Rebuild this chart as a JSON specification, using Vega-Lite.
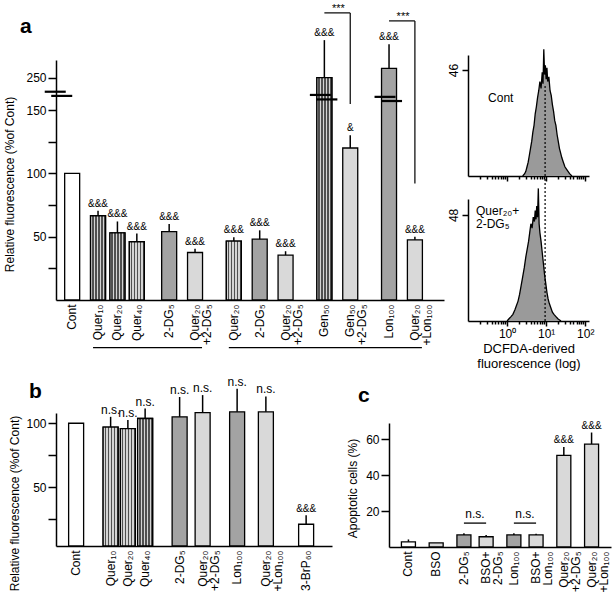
{
  "$schema": "https://vega.github.io/schema/vega-lite/v6.json",
  "padding": {"left": 3, "top": 2, "right": 0, "bottom": 0},
  "background": "white",
  "bounds": "flush",
  "columns": 2,
  "spacing": {"row": 92, "column": 24},
  "config": {
    "font": "Liberation Sans",
    "view": {"stroke": null},
    "axis": {"domainColor": "black", "domainWidth": 1.5, "tickColor": "black", "tickWidth": 1.5, "tickSize": 8, "labelPadding": 2, "labelColor": "black", "labelFontSize": 12, "titleColor": "black", "titleFontSize": 12, "titleFontWeight": "normal", "grid": false},
    "title": {"fontSize": 21, "fontWeight": "bold", "anchor": "start", "frame": "group", "color": "black"},
    "text": {"color": "black"}
  },
  "concat": [
    {
      "width": 388,
      "height": 245,
      "title": {"text": "a", "dx": -36, "offset": -51, "baseline": "alphabetic"},
      "layer": [
        {
          "data": {"values": [
            {"id": "a:Cont", "v": 100, "err": 100, "agent": "control", "sig": ""},
            {"id": "3h:Quer₁₀", "v": 66.5, "err": 70.5, "agent": "flavonoid", "sig": "&&&"},
            {"id": "3h:Quer₂₀", "v": 53, "err": 62, "agent": "flavonoid", "sig": "&&&"},
            {"id": "3h:Quer₄₀", "v": 46, "err": 52.5, "agent": "flavonoid", "sig": "&&&"},
            {"id": "3h:2-DG₅", "v": 54, "err": 60, "agent": "inhibitor", "sig": "&&&"},
            {"id": "3h:Quer₂₀|+2-DG₅", "v": 37.5, "err": 40.5, "agent": "combination", "sig": "&&&"},
            {"id": "6h:Quer₂₀", "v": 46.5, "err": 49.5, "agent": "flavonoid", "sig": "&&&"},
            {"id": "6h:2-DG₅", "v": 48, "err": 55, "agent": "inhibitor", "sig": "&&&"},
            {"id": "6h:Quer₂₀|+2-DG₅", "v": 35.5, "err": 38.5, "agent": "combination", "sig": "&&&"},
            {"id": "6h:Gen₅₀", "v": 251, "err": 368, "agent": "flavonoid", "sig": "&&&"},
            {"id": "6h:Gen₅₀|+2-DG₅", "v": 120, "err": 130, "agent": "combination", "sig": "&"},
            {"id": "6h:Lon₁₀₀", "v": 280, "err": 355, "agent": "inhibitor", "sig": "&&&"},
            {"id": "6h:Quer₂₀|+Lon₁₀₀", "v": 47.5, "err": 50, "agent": "combination", "sig": "&&&"}
          ]},
          "layer": [
            {
              "mark": {"type": "bar", "width": 15, "stroke": "black", "strokeWidth": 1.3},
              "encoding": {
                "x": {
                  "field": "id", "type": "nominal",
                  "scale": {"domain": ["_0","_1","a:Cont","_3","_4","_5","3h:Quer₁₀","_7","_8","3h:Quer₂₀","_10","_11","3h:Quer₄₀","_13","_14","_15","_16","3h:2-DG₅","_18","_19","_20","3h:Quer₂₀|+2-DG₅","_22","_23","_24","_25","_26","6h:Quer₂₀","_28","_29","_30","6h:2-DG₅","_32","_33","_34","6h:Quer₂₀|+2-DG₅","_36","_37","_38","_39","_40","6h:Gen₅₀","_42","_43","_44","6h:Gen₅₀|+2-DG₅","_46","_47","_48","_49","_50","6h:Lon₁₀₀","_52","_53","_54","6h:Quer₂₀|+Lon₁₀₀","_56","_57","_58","_59"], "paddingInner": 0, "paddingOuter": 0},
                  "axis": {"title": null, "ticks": false, "labelAngle": -90, "labelPadding": 4, "labelLineHeight": 12, "labelExpr": "test(regexp(':'), datum.value) ? split(replace(datum.value, regexp('^[^:]*:'), ''), '|') : ''"}
                },
                "y": {
                  "field": "v", "type": "quantitative",
                  "scale": {"domain": [0, 150, 306], "range": [245, 55, 5], "nice": false, "zero": false},
                  "axis": {"values": [25, 50, 75, 100, 125, 150, 250], "labelExpr": "datum.value % 50 == 0 ? datum.label : ''", "title": "Relative fluorescence (%of Cont)", "titlePadding": 9, "titleY": 129}
                },
                "fill": {
                  "field": "agent", "type": "nominal",
                  "scale": {"domain": ["control", "flavonoid", "inhibitor", "combination", "BSO", "reference"], "range": ["white", "#8a8a8a", "#a3a3a3", "#d9d9d9", "#d9d9d9", "white"]},
                  "legend": null
                }
              }
            },
            {
              "transform": [{"filter": "datum.agent == 'flavonoid'"}],
              "mark": {"type": "bar", "width": 15, "stroke": "black", "strokeWidth": 1.3,
                "fill": {"gradient": "linear", "x1": 0, "y1": 0, "x2": 1, "y2": 0, "stops": [
                  {"offset": 0, "color": "#d4d4d4"}, {"offset": 0.1, "color": "#d4d4d4"}, {"offset": 0.1, "color": "#505050"}, {"offset": 0.2, "color": "#505050"},
                  {"offset": 0.2, "color": "#d4d4d4"}, {"offset": 0.3, "color": "#d4d4d4"}, {"offset": 0.3, "color": "#505050"}, {"offset": 0.4, "color": "#505050"},
                  {"offset": 0.4, "color": "#d4d4d4"}, {"offset": 0.5, "color": "#d4d4d4"}, {"offset": 0.5, "color": "#505050"}, {"offset": 0.6, "color": "#505050"},
                  {"offset": 0.6, "color": "#d4d4d4"}, {"offset": 0.7, "color": "#d4d4d4"}, {"offset": 0.7, "color": "#505050"}, {"offset": 0.8, "color": "#505050"},
                  {"offset": 0.8, "color": "#d4d4d4"}, {"offset": 0.9, "color": "#d4d4d4"}, {"offset": 0.9, "color": "#505050"}, {"offset": 1, "color": "#505050"}
                ]}},
              "encoding": {"x": {"field": "id", "type": "nominal"}, "y": {"field": "v", "type": "quantitative"}}
            },
            {
              "transform": [{"filter": "datum.err > datum.v"}],
              "mark": {"type": "rule", "strokeWidth": 1.5, "color": "black"},
              "encoding": {"x": {"field": "id", "type": "nominal"}, "y": {"field": "err", "type": "quantitative"}, "y2": {"field": "v"}}
            },
            {
              "mark": {"type": "text", "baseline": "alphabetic", "dy": -4, "fontSize": 10},
              "encoding": {"x": {"field": "id", "type": "nominal"}, "y": {"field": "err", "type": "quantitative"}, "text": {"field": "sig"}}
            }
          ]
        },
        {
          "data": {"values": [
            {"at": "_0", "y": 207, "part": "upper"},
            {"at": "_0", "y": 194, "part": "lower"},
            {"at": "6h:Gen₅₀", "y": 197, "part": "upper"},
            {"at": "6h:Gen₅₀", "y": 183, "part": "lower"},
            {"at": "6h:Lon₁₀₀", "y": 191, "part": "upper"},
            {"at": "6h:Lon₁₀₀", "y": 178, "part": "lower"}
          ]},
          "layer": [
            {
              "transform": [{"filter": "datum.part == 'upper'"}],
              "mark": {"type": "tick", "orient": "horizontal", "size": 21, "thickness": 2.2, "color": "black", "opacity": 1, "xOffset": -4},
              "encoding": {"x": {"field": "at", "type": "nominal"}, "y": {"field": "y", "type": "quantitative"}}
            },
            {
              "transform": [{"filter": "datum.part == 'lower'"}],
              "mark": {"type": "tick", "orient": "horizontal", "size": 21, "thickness": 2.2, "color": "black", "opacity": 1, "xOffset": 2.5},
              "encoding": {"x": {"field": "at", "type": "nominal"}, "y": {"field": "y", "type": "quantitative"}}
            }
          ]
        },
        {
          "data": {"values": [
            {"from": "6h:Gen₅₀", "to": "6h:Gen₅₀|+2-DG₅", "top": 453, "bottom": 169, "label": "***"},
            {"from": "6h:Lon₁₀₀", "to": "6h:Quer₂₀|+Lon₁₀₀", "top": 428, "bottom": 92, "label": "***"}
          ]},
          "layer": [
            {
              "mark": {"type": "rule", "strokeWidth": 1.2, "color": "black"},
              "encoding": {"x": {"field": "from", "type": "nominal"}, "x2": {"field": "to"}, "y": {"field": "top", "type": "quantitative"}}
            },
            {
              "mark": {"type": "rule", "strokeWidth": 1.2, "color": "black"},
              "encoding": {"x": {"field": "to", "type": "nominal"}, "y": {"field": "top", "type": "quantitative"}, "y2": {"field": "bottom"}}
            },
            {
              "mark": {"type": "text", "fontSize": 11, "baseline": "alphabetic", "dy": -1, "xOffset": 14},
              "encoding": {"x": {"field": "from", "type": "nominal"}, "y": {"field": "top", "type": "quantitative"}, "text": {"field": "label"}}
            }
          ]
        },
        {
          "data": {"values": [
            {"from": "3h:Quer₁₀", "to": "3h:Quer₂₀|+2-DG₅", "label": "3 h"},
            {"from": "6h:Quer₂₀", "to": "6h:Quer₂₀|+Lon₁₀₀", "label": "6 h"}
          ]},
          "mark": {"type": "rule", "strokeWidth": 1.3, "color": "black", "yOffset": 47.7, "xOffset": -5, "x2Offset": 7},
          "encoding": {"x": {"field": "from", "type": "nominal"}, "x2": {"field": "to"}, "y": {"datum": 0, "type": "quantitative"}}
        },
        {
          "mark": {"type": "text", "fontSize": 12, "baseline": "middle", "yOffset": 61, "xOffset": 3},
          "encoding": {"x": {"datum": "3h:Quer₄₀", "type": "nominal"}, "y": {"datum": 0, "type": "quantitative"}, "text": {"value": "3 h"}}
        },
        {
          "mark": {"type": "text", "fontSize": 12, "baseline": "middle", "yOffset": 62, "xOffset": 11},
          "encoding": {"x": {"datum": "6h:Gen₅₀", "type": "nominal"}, "y": {"datum": 0, "type": "quantitative"}, "text": {"value": "6 h"}}
        }
      ]
    },
    {
      "width": 121,
      "height": 266,
      "resolve": {"scale": {"x": "independent", "y": "independent"}, "axis": {"x": "independent", "y": "independent"}},
      "layer": [
        {
          "layer": [
            {
              "data": {"values": [
                {"fl": 2.51, "count": 0}, {"fl": 2.82, "count": 1}, {"fl": 3.02, "count": 2}, {"fl": 3.24, "count": 4},
                {"fl": 3.47, "count": 6}, {"fl": 3.72, "count": 9}, {"fl": 3.98, "count": 12}, {"fl": 4.27, "count": 15},
                {"fl": 4.57, "count": 19}, {"fl": 4.9, "count": 22}, {"fl": 5.25, "count": 27}, {"fl": 5.62, "count": 30},
                {"fl": 6.03, "count": 34}, {"fl": 6.46, "count": 37}, {"fl": 6.92, "count": 41}, {"fl": 7.41, "count": 38},
                {"fl": 7.94, "count": 45}, {"fl": 8.32, "count": 40}, {"fl": 8.71, "count": 55}, {"fl": 9.12, "count": 44},
                {"fl": 9.55, "count": 48}, {"fl": 10, "count": 42}, {"fl": 10.47, "count": 47}, {"fl": 10.96, "count": 41},
                {"fl": 11.75, "count": 43}, {"fl": 12.59, "count": 37}, {"fl": 13.49, "count": 35}, {"fl": 14.45, "count": 31},
                {"fl": 15.49, "count": 28}, {"fl": 16.6, "count": 24}, {"fl": 17.78, "count": 22}, {"fl": 19.05, "count": 18},
                {"fl": 20.42, "count": 15}, {"fl": 21.88, "count": 12}, {"fl": 23.44, "count": 10}, {"fl": 25.12, "count": 8},
                {"fl": 27.54, "count": 6}, {"fl": 30.2, "count": 4}, {"fl": 33.11, "count": 3}, {"fl": 36.31, "count": 2},
                {"fl": 39.81, "count": 1}, {"fl": 45.71, "count": 0}
              ]},
              "mark": {"type": "area", "color": "#9a9a9a", "opacity": 1, "line": {"color": "black", "strokeWidth": 1.3}},
              "encoding": {
                "x": {"field": "fl", "type": "quantitative", "scale": {"type": "log", "domain": [0.1, 125], "nice": false},
                  "axis": {"orient": "bottom", "offset": -145, "values": [0.2,0.3,0.4,0.5,0.6,0.7,0.8,0.9,1,2,3,4,5,6,7,8,9,10,20,30,40,50,60,70,80,90,100], "labels": false, "title": null, "tickSize": {"condition": {"test": "datum.value == 1 || datum.value == 10 || datum.value == 100", "value": 5}, "value": 3}}},
                "y": {"field": "count", "type": "quantitative", "scale": {"domain": [0, 52.5], "range": [121, 0], "nice": false},
                  "axis": {"orient": "left", "values": [46], "labelAngle": -90, "title": null, "tickSize": 6}}
              }
            },
            {
              "data": {"values": [{"marker": "control mode"}]},
              "mark": {"type": "rule", "strokeDash": [2, 2], "color": "black", "strokeWidth": 1.2},
              "encoding": {"x": {"datum": 9.4, "type": "quantitative"}, "y": {"datum": 0, "type": "quantitative"}, "y2": {"datum": 39.5}}
            },
            {
              "data": {"values": [{"label": "Cont"}]},
              "mark": {"type": "text", "align": "left", "baseline": "middle", "fontSize": 12},
              "encoding": {"x": {"datum": 0.326, "type": "quantitative"}, "y": {"datum": 33.8, "type": "quantitative"}, "text": {"field": "label"}}
            }
          ]
        },
        {
          "layer": [
            {
              "data": {"values": [
                {"fl": 1.0, "count": 0}, {"fl": 1.12, "count": 1}, {"fl": 1.26, "count": 2}, {"fl": 1.41, "count": 3},
                {"fl": 1.58, "count": 5}, {"fl": 1.74, "count": 7}, {"fl": 1.91, "count": 9}, {"fl": 2.09, "count": 12},
                {"fl": 2.29, "count": 16}, {"fl": 2.51, "count": 20}, {"fl": 2.75, "count": 24}, {"fl": 3.02, "count": 29},
                {"fl": 3.31, "count": 33}, {"fl": 3.55, "count": 36}, {"fl": 3.8, "count": 40}, {"fl": 4.07, "count": 44},
                {"fl": 4.37, "count": 42}, {"fl": 4.68, "count": 47}, {"fl": 5.01, "count": 45}, {"fl": 5.25, "count": 50},
                {"fl": 5.5, "count": 46}, {"fl": 5.75, "count": 52}, {"fl": 6.03, "count": 47}, {"fl": 6.31, "count": 60},
                {"fl": 6.61, "count": 44}, {"fl": 6.92, "count": 40}, {"fl": 7.41, "count": 36}, {"fl": 7.94, "count": 31},
                {"fl": 8.51, "count": 26}, {"fl": 9.12, "count": 21}, {"fl": 9.77, "count": 17}, {"fl": 10.47, "count": 13},
                {"fl": 11.22, "count": 10}, {"fl": 12.02, "count": 8}, {"fl": 13.18, "count": 6}, {"fl": 14.45, "count": 4},
                {"fl": 15.85, "count": 3}, {"fl": 17.78, "count": 2}, {"fl": 19.95, "count": 1}, {"fl": 23.99, "count": 0}
              ]},
              "mark": {"type": "area", "color": "#9a9a9a", "opacity": 1, "line": {"color": "black", "strokeWidth": 1.3}},
              "encoding": {
                "x": {"field": "fl", "type": "quantitative", "scale": {"type": "log", "domain": [0.1, 125], "nice": false},
                  "axis": {"orient": "bottom", "values": [0.2,0.3,0.4,0.5,0.6,0.7,0.8,0.9,1,2,3,4,5,6,7,8,9,10,20,30,40,50,60,70,80,90,100], "labelOverlap": false, "labelFlush": false, "labelExpr": "datum.value == 1 ? '10⁰' : datum.value == 10 ? '10¹' : datum.value == 100 ? '10²' : ''", "title": ["DCFDA-derived", "fluorescence (log)"], "titleFontSize": 13, "titlePadding": 3, "tickSize": {"condition": {"test": "datum.value == 1 || datum.value == 10 || datum.value == 100", "value": 5}, "value": 3}}},
                "y": {"field": "count", "type": "quantitative", "scale": {"domain": [0, 55.2], "range": [266, 144], "nice": false},
                  "axis": {"orient": "left", "values": [48], "labelAngle": -90, "title": null, "tickSize": 6}}
              }
            },
            {
              "data": {"values": [{"marker": "control mode"}]},
              "mark": {"type": "rule", "strokeDash": [2, 2], "color": "black", "strokeWidth": 1.2},
              "encoding": {"x": {"datum": 9.4, "type": "quantitative"}, "y": {"datum": 0, "type": "quantitative"}, "y2": {"datum": 65.6}}
            },
            {
              "data": {"values": [{"line1": "Quer₂₀+", "line2": "2-DG₅"}]},
              "mark": {"type": "text", "align": "left", "baseline": "middle", "fontSize": 12, "lineHeight": 13},
              "encoding": {"x": {"datum": 0.16, "type": "quantitative"}, "y": {"datum": 49.8, "type": "quantitative"}, "text": {"value": ["Quer₂₀+", "2-DG₅"]}}
            }
          ]
        }
      ]
    },
    {
      "width": 276,
      "height": 133,
      "title": {"text": "b", "dx": -27, "offset": -43, "baseline": "alphabetic"},
      "data": {"values": [
        {"id": "b:Cont", "v": 100, "err": 100, "agent": "control", "sig": ""},
        {"id": "b:Quer₁₀", "v": 97, "err": 105, "agent": "flavonoid", "sig": "n.s."},
        {"id": "b:Quer₂₀", "v": 95.8, "err": 102.5, "agent": "flavonoid", "sig": "n.s."},
        {"id": "b:Quer₄₀", "v": 103.7, "err": 111.5, "agent": "flavonoid", "sig": "n.s."},
        {"id": "b:2-DG₅", "v": 105, "err": 120.5, "agent": "inhibitor", "sig": "n.s."},
        {"id": "b:Quer₂₀|+2-DG₅", "v": 108.3, "err": 122, "agent": "combination", "sig": "n.s."},
        {"id": "b:Lon₁₀₀", "v": 108.9, "err": 127, "agent": "inhibitor", "sig": "n.s."},
        {"id": "b:Quer₂₀|+Lon₁₀₀", "v": 108.9, "err": 121, "agent": "combination", "sig": "n.s."},
        {"id": "b:3-BrP₆₀", "v": 21, "err": 28, "agent": "reference", "sig": "&&&"}
      ]},
      "layer": [
        {
          "mark": {"type": "bar", "width": 15, "stroke": "black", "strokeWidth": 1.3},
          "encoding": {
            "x": {
              "field": "id", "type": "nominal",
              "scale": {"domain": ["_0","_1","_2","b:Cont","_4","_5","_6","_7","_8","b:Quer₁₀","_10","_11","b:Quer₂₀","_13","_14","b:Quer₄₀","_16","_17","_18","_19","_20","b:2-DG₅","_22","_23","_24","b:Quer₂₀|+2-DG₅","_26","_27","_28","_29","_30","b:Lon₁₀₀","_32","_33","_34","_35","b:Quer₂₀|+Lon₁₀₀","_37","_38","_39","_40","_41","_42","b:3-BrP₆₀","_44","_45","_46","_47"], "paddingInner": 0, "paddingOuter": 0},
              "axis": {"title": null, "ticks": false, "labelAngle": -90, "labelPadding": 4, "labelLineHeight": 12, "labelExpr": "test(regexp(':'), datum.value) ? split(replace(datum.value, regexp('^[^:]*:'), ''), '|') : ''"}
            },
            "y": {
              "field": "v", "type": "quantitative",
              "scale": {"domain": [4, 108], "nice": false, "zero": false},
              "axis": {"values": [25, 50, 75, 100], "labelExpr": "datum.value % 50 == 0 ? datum.label : ''", "title": "Relative fluorescence (%of Cont)", "titlePadding": 4, "titleY": 90}
            },
            "y2": {"datum": 4},
            "fill": {
              "field": "agent", "type": "nominal",
              "scale": {"domain": ["control", "flavonoid", "inhibitor", "combination", "BSO", "reference"], "range": ["white", "#8a8a8a", "#a3a3a3", "#d9d9d9", "#d9d9d9", "white"]},
              "legend": null
            }
          }
        },
        {
          "transform": [{"filter": "datum.agent == 'flavonoid'"}],
          "mark": {"type": "bar", "width": 15, "stroke": "black", "strokeWidth": 1.3,
            "fill": {"gradient": "linear", "x1": 0, "y1": 0, "x2": 1, "y2": 0, "stops": [
              {"offset": 0, "color": "#d4d4d4"}, {"offset": 0.1, "color": "#d4d4d4"}, {"offset": 0.1, "color": "#505050"}, {"offset": 0.2, "color": "#505050"},
              {"offset": 0.2, "color": "#d4d4d4"}, {"offset": 0.3, "color": "#d4d4d4"}, {"offset": 0.3, "color": "#505050"}, {"offset": 0.4, "color": "#505050"},
              {"offset": 0.4, "color": "#d4d4d4"}, {"offset": 0.5, "color": "#d4d4d4"}, {"offset": 0.5, "color": "#505050"}, {"offset": 0.6, "color": "#505050"},
              {"offset": 0.6, "color": "#d4d4d4"}, {"offset": 0.7, "color": "#d4d4d4"}, {"offset": 0.7, "color": "#505050"}, {"offset": 0.8, "color": "#505050"},
              {"offset": 0.8, "color": "#d4d4d4"}, {"offset": 0.9, "color": "#d4d4d4"}, {"offset": 0.9, "color": "#505050"}, {"offset": 1, "color": "#505050"}
            ]}},
          "encoding": {"x": {"field": "id", "type": "nominal"}, "y": {"field": "v", "type": "quantitative"}, "y2": {"datum": 4}}
        },
        {
          "transform": [{"filter": "datum.err > datum.v"}],
          "mark": {"type": "rule", "strokeWidth": 1.5, "color": "black"},
          "encoding": {"x": {"field": "id", "type": "nominal"}, "y": {"field": "err", "type": "quantitative"}, "y2": {"field": "v"}}
        },
        {
          "mark": {"type": "text", "baseline": "alphabetic", "dy": -3},
          "encoding": {"x": {"field": "id", "type": "nominal"}, "y": {"field": "err", "type": "quantitative"}, "text": {"field": "sig"},
            "size": {"condition": {"test": "datum.sig == 'n.s.'", "value": 12}, "value": 10}}
        }
      ]
    },
    {
      "width": 143,
      "height": 134,
      "title": {"text": "c", "dx": -110, "offset": -10, "baseline": "alphabetic"},
      "layer": [
        {
          "data": {"values": [
            {"id": "c:Cont", "v": 2.9, "err": 4.2, "agent": "control", "sig": ""},
            {"id": "c:BSO", "v": 2.3, "err": 2.3, "agent": "BSO", "sig": ""},
            {"id": "c:2-DG₅", "v": 6.7, "err": 7.6, "agent": "inhibitor", "sig": ""},
            {"id": "c:BSO+|2-DG₅", "v": 5.7, "err": 6.7, "agent": "BSO", "sig": ""},
            {"id": "c:Lon₁₀₀", "v": 6.7, "err": 7.6, "agent": "inhibitor", "sig": ""},
            {"id": "c:BSO+|Lon₁₀₀", "v": 6.7, "err": 7.4, "agent": "BSO", "sig": ""},
            {"id": "c:Quer₂₀|+2-DG₅", "v": 51, "err": 55.7, "agent": "combination", "sig": "&&&"},
            {"id": "c:Quer₂₀|+Lon₁₀₀", "v": 57.3, "err": 63.7, "agent": "combination", "sig": "&&&"}
          ]},
          "layer": [
            {
              "mark": {"type": "bar", "width": 14, "stroke": "black", "strokeWidth": 1.3},
              "encoding": {
                "x": {
                  "field": "id", "type": "nominal",
                  "scale": {"domain": ["_0","_1","_2","c:Cont","_4","_5","_6","_7","c:BSO","_9","_10","_11","_12","c:2-DG₅","_14","_15","_16","c:BSO+|2-DG₅","_18","_19","_20","_21","c:Lon₁₀₀","_23","_24","_25","c:BSO+|Lon₁₀₀","_27","_28","_29","_30","c:Quer₂₀|+2-DG₅","_32","_33","_34","_35","c:Quer₂₀|+Lon₁₀₀","_37","_38","_39"], "range": [-79, 143], "paddingInner": 0, "paddingOuter": 0},
                  "axis": {"title": null, "ticks": false, "labelAngle": -90, "labelPadding": 4, "labelLineHeight": 12, "labelExpr": "test(regexp(':'), datum.value) ? split(replace(datum.value, regexp('^[^:]*:'), ''), '|') : ''"}
                },
                "y": {
                  "field": "v", "type": "quantitative",
                  "scale": {"domain": [0, 69], "range": [134, 10], "nice": false},
                  "axis": {"values": [20, 40, 60], "offset": 79, "title": "Apoptotic cells (%)", "titlePadding": 6, "titleY": 75}
                },
                "fill": {
                  "field": "agent", "type": "nominal",
                  "scale": {"domain": ["control", "flavonoid", "inhibitor", "combination", "BSO", "reference"], "range": ["white", "#8a8a8a", "#a3a3a3", "#d9d9d9", "#d9d9d9", "white"]},
                  "legend": null
                }
              }
            },
            {
              "transform": [{"filter": "datum.err > datum.v"}],
              "mark": {"type": "rule", "strokeWidth": 1.5, "color": "black"},
              "encoding": {"x": {"field": "id", "type": "nominal"}, "y": {"field": "err", "type": "quantitative"}, "y2": {"field": "v"}}
            },
            {
              "mark": {"type": "text", "baseline": "alphabetic", "dy": -4, "fontSize": 10},
              "encoding": {"x": {"field": "id", "type": "nominal"}, "y": {"field": "err", "type": "quantitative"}, "text": {"field": "sig"}}
            }
          ]
        },
        {
          "data": {"values": [
            {"from": "c:2-DG₅", "to": "c:BSO+|2-DG₅", "y": 13.3, "label": "n.s."},
            {"from": "c:Lon₁₀₀", "to": "c:BSO+|Lon₁₀₀", "y": 13.3, "label": "n.s."}
          ]},
          "layer": [
            {
              "mark": {"type": "rule", "strokeWidth": 1.3, "color": "black"},
              "encoding": {"x": {"field": "from", "type": "nominal"}, "x2": {"field": "to"}, "y": {"field": "y", "type": "quantitative"}}
            },
            {
              "mark": {"type": "text", "fontSize": 12, "baseline": "alphabetic", "dy": -5, "xOffset": 11},
              "encoding": {"x": {"field": "from", "type": "nominal"}, "y": {"field": "y", "type": "quantitative"}, "text": {"field": "label"}}
            }
          ]
        }
      ]
    }
  ]
}
